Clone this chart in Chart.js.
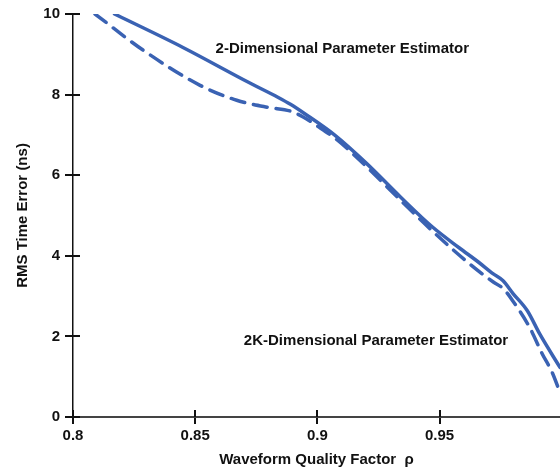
<!DOCTYPE html>
<html>
<head>
<meta charset="utf-8">
<script src="https://cdn.jsdelivr.net/npm/chart.js@4.4.1/dist/chart.umd.min.js"></script>
<style>
  html, body { margin: 0; padding: 0; background: #fff; }
  #wrap { width: 560px; height: 471px; }
</style>
</head>
<body>
<div id="wrap"><canvas id="mycanvas" width="560" height="471"></canvas></div>
<script>
// 2-Dimensional estimator (solid)
var rho2D = [0.817, 0.845, 0.872, 0.884, 0.889, 0.895, 0.907, 0.920, 0.934, 0.947, 0.958, 0.966, 0.972, 0.976, 0.980, 0.986, 0.991, 0.9993];
var err2D = [10.0, 9.17, 8.30, 7.93, 7.76, 7.52, 7.00, 6.30, 5.46, 4.72, 4.20, 3.84, 3.55, 3.38, 3.07, 2.63, 2.06, 1.23];

// 2K-Dimensional estimator (dashed)
var rho2K = [0.809, 0.829, 0.852, 0.867, 0.880, 0.889, 0.894, 0.900, 0.908, 0.920, 0.934, 0.947, 0.958, 0.966, 0.972, 0.976, 0.980, 0.987, 0.992, 0.996, 0.9993];
var err2K = [10.0, 9.09, 8.23, 7.86, 7.68, 7.59, 7.45, 7.22, 6.88, 6.22, 5.38, 4.62, 4.02, 3.62, 3.35, 3.19, 2.88, 2.21, 1.57, 1.12, 0.61];

var xTicks = [0.8, 0.85, 0.9, 0.95];
var yTicks = [0, 2, 4, 6, 8, 10];

var labels = [
    {text: '2-Dimensional Parameter Estimator', x: 0.9102, y: 9.14},
    {text: '2K-Dimensional Parameter Estimator', x: 0.924, y: 1.89}
];

var blue = '#3a62b3';
var fontFam = "'Liberation Sans', Arial, sans-serif";

function toPoints(xs, ys) {
    var pts = [];
    for (var i in xs) {
        pts.push({x: xs[i], y: ys[i]});
    }
    return pts;
}

// inner half of the tick marks + the text labels
var extras = {
    id: 'extras',
    afterDraw: function(chart) {
        var ctx = chart.ctx;
        var xs = chart.scales.x, ys = chart.scales.y;
        var area = chart.chartArea;
        ctx.save();
        ctx.strokeStyle = '#111';
        ctx.lineWidth = 2;
        xTicks.forEach(function(v) {
            var px = Math.round(xs.getPixelForValue(v));
            ctx.beginPath();
            ctx.moveTo(px, area.bottom);
            ctx.lineTo(px, area.bottom - 7);
            ctx.stroke();
        });
        yTicks.forEach(function(v) {
            var py = Math.round(ys.getPixelForValue(v));
            ctx.beginPath();
            ctx.moveTo(area.left, py);
            ctx.lineTo(area.left + 7, py);
            ctx.stroke();
        });
        ctx.fillStyle = '#111';
        ctx.font = 'bold 15px ' + fontFam;
        ctx.textAlign = 'center';
        ctx.textBaseline = 'middle';
        labels.forEach(function(l) {
            ctx.fillText(l.text, xs.getPixelForValue(l.x), ys.getPixelForValue(l.y));
        });
        ctx.restore();
    }
};

var ctx = document.getElementById('mycanvas');

var chart = new Chart(ctx, {
    type: 'line',
    data: {
        datasets: [
            {
                label: '2-Dimensional Parameter Estimator',
                data: toPoints(rho2D, err2D),
                borderColor: blue,
                borderWidth: 3.5,
                pointRadius: 0,
                cubicInterpolationMode: 'monotone',
                borderCapStyle: 'round',
                fill: false
            },
            {
                label: '2K-Dimensional Parameter Estimator',
                data: toPoints(rho2K, err2K),
                borderColor: blue,
                borderWidth: 3.5,
                borderDash: [14, 9],
                borderCapStyle: 'round',
                pointRadius: 0,
                cubicInterpolationMode: 'monotone',
                fill: false
            }
        ]
    },
    options: {
        responsive: false,
        animation: false,
        layout: {padding: {top: 10, right: 0, left: 0, bottom: 0}},
        plugins: {
            legend: {display: false},
            tooltip: {enabled: false}
        },
        scales: {
            x: {
                type: 'linear',
                min: 0.8,
                max: 0.9993,
                afterBuildTicks: function(scale) {
                    scale.ticks = xTicks.map(function(v) { return {value: v}; });
                },
                afterFit: function(scale) { scale.height = 54; },
                ticks: {
                    color: '#111',
                    padding: 3,
                    maxRotation: 0,
                    font: {family: fontFam, size: 15, weight: 'bold'},
                    callback: function(v) { return String(v); }
                },
                grid: {drawOnChartArea: false, tickLength: 7, color: '#111', lineWidth: 2},
                border: {color: '#444', width: 2},
                title: {
                    display: true,
                    text: 'Waveform Quality Factor  ρ',
                    color: '#111',
                    font: {family: fontFam, size: 15, weight: 'bold'},
                    padding: {top: 0, bottom: 2}
                }
            },
            y: {
                min: 0,
                max: 10,
                afterBuildTicks: function(scale) {
                    scale.ticks = yTicks.map(function(v) { return {value: v}; });
                },
                afterFit: function(scale) { scale.width = 73; },
                ticks: {
                    color: '#111',
                    padding: 5,
                    font: {family: fontFam, size: 15, weight: 'bold'}
                },
                grid: {drawOnChartArea: false, tickLength: 8, color: '#111', lineWidth: 2},
                border: {color: '#111', width: 1.5},
                title: {
                    display: true,
                    text: 'RMS Time Error (ns)',
                    color: '#111',
                    font: {family: fontFam, size: 15, weight: 'bold'},
                    padding: {top: 14, bottom: 0}
                }
            }
        }
    },
    plugins: [extras]
});
</script>
</body>
</html>
